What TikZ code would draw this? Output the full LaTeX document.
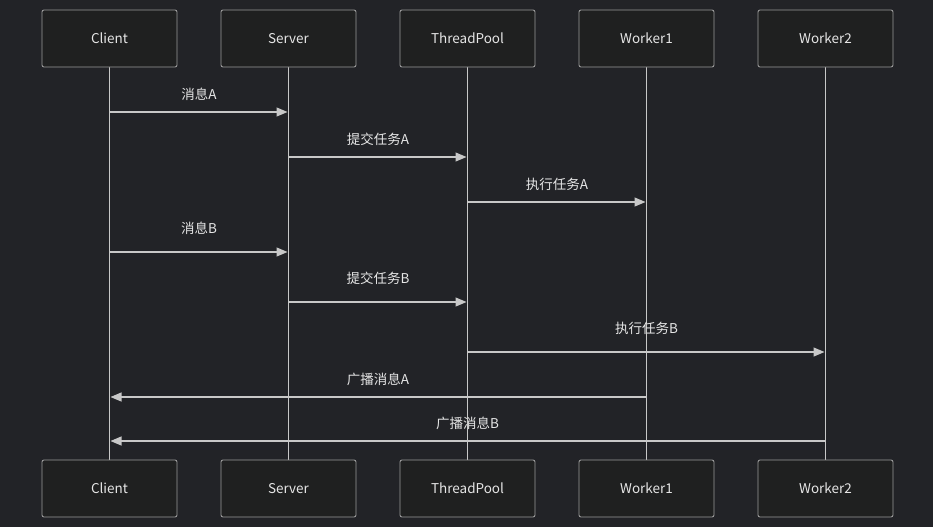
\documentclass[tikz,border=0pt]{standalone}
\usepackage{fontspec}
\setmainfont{Noto Sans CJK SC}
\usetikzlibrary{arrows.meta}
\definecolor{bg}{HTML}{222327}
\definecolor{boxfill}{HTML}{1F2020}
\definecolor{boxline}{HTML}{9A9A9A}
\definecolor{ln}{HTML}{C8C8C8}
\definecolor{txt}{HTML}{E6E6E6}
\tikzset{
  actor/.style={draw=boxline, fill=boxfill, rounded corners=2pt, minimum width=135pt, minimum height=57pt, inner sep=0pt, text=txt, font=\fontsize{13.5}{16}\selectfont, line width=0.9pt},
  life/.style={draw=ln, line width=1.2pt},
  msg/.style={draw=ln, line width=1.2pt, -{Triangle[length=11pt,width=9pt]}, shorten >=1pt},
  lbl/.style={text=txt, font=\fontsize{13.5}{16}\selectfont, inner sep=0pt}
}
\begin{document}
\begin{tikzpicture}[x=1pt,y=-1pt]
\fill[bg] (0,0) rectangle (933,527);
\useasboundingbox (0,0) rectangle (933,527);
\foreach \n/\x/\t in {c/109.5/Client,s/288.5/Server,t/467.5/ThreadPool,a/646.5/Worker1,b/825.5/Worker2}{
  \coordinate (\n T) at (\x,67);
  \coordinate (\n B) at (\x,460);
  \draw[life] (\n T) -- (\n B);
  \node[actor] (\n top) at (\x,38.5) {\t};
  \node[actor] (\n bot) at (\x,488.5) {\t};
}
% message coordinates
\foreach \n/\x in {c/109.5,s/288.5,t/467.5,a/646.5,b/825.5}{
  \foreach \i/\y in {1/112,2/157,3/202,4/252,5/302,6/352,7/397,8/441}{
    \coordinate (\n\i) at (\x,\y);
  }
}
\draw[msg] (c1) -- node[lbl, above=11pt] {消息A} (s1);
\draw[msg] (s2) -- node[lbl, above=11pt] {提交任务A} (t2);
\draw[msg] (t3) -- node[lbl, above=11pt] {执行任务A} (a3);
\draw[msg] (c4) -- node[lbl, above=17pt] {消息B} (s4);
\draw[msg] (s5) -- node[lbl, above=17pt] {提交任务B} (t5);
\draw[msg] (t6) -- node[lbl, above=17pt] {执行任务B} (b6);
\draw[msg] (a7) -- node[lbl, above=11pt] {广播消息A} (c7);
\draw[msg] (b8) -- node[lbl, above=11pt] {广播消息B} (c8);
\end{tikzpicture}
\end{document}
